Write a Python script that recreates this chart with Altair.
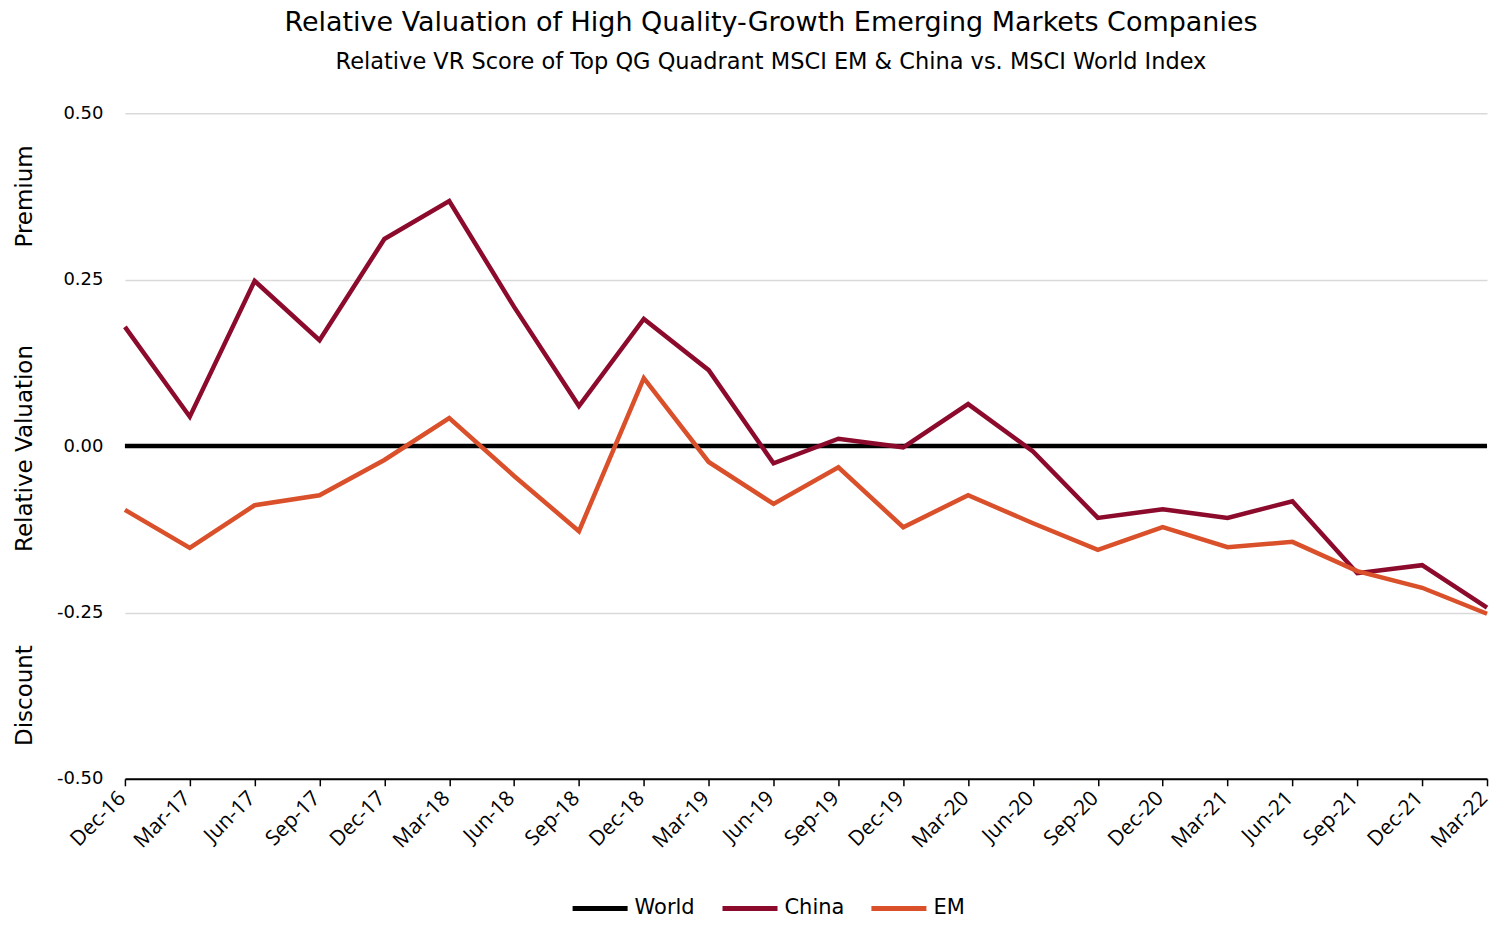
import altair as alt
import pandas as pd

dates = ["Dec-16", "Mar-17", "Jun-17", "Sep-17", "Dec-17", "Mar-18", "Jun-18", "Sep-18",
         "Dec-18", "Mar-19", "Jun-19", "Sep-19", "Dec-19", "Mar-20", "Jun-20", "Sep-20",
         "Dec-20", "Mar-21", "Jun-21", "Sep-21", "Dec-21", "Mar-22"]
world = [0.0] * len(dates)
china = [0.179, 0.044, 0.248, 0.159, 0.311, 0.368, 0.209, 0.060, 0.191, 0.114, -0.026,
         0.011, -0.002, 0.063, -0.008, -0.108, -0.095, -0.108, -0.083, -0.191, -0.179, -0.243]
em = [-0.096, -0.153, -0.089, -0.074, -0.021, 0.042, -0.045, -0.128, 0.102, -0.024, -0.087,
      -0.032, -0.122, -0.074, -0.116, -0.156, -0.122, -0.152, -0.144, -0.188, -0.213, -0.252]
series_names = ["World", "China", "EM"]
series_colors = ["#000000", "#8C0A2C", "#D9502A"]
side_labels = ["Premium", "Discount"]
side_values = [0.375, -0.375]

rows = []
for name, vals in zip(series_names, [world, china, em]):
    for d, v in zip(dates, vals):
        rows.append({"date": d, "value": v, "series": name})
df = pd.DataFrame(rows)
side_df = pd.DataFrame({"label": side_labels, "value": side_values})

FONT = "DejaVu Sans"

lines = alt.Chart(df).mark_line(strokeWidth=4.5, strokeCap="butt", strokeJoin="miter").encode(
    x=alt.X("date:O", sort=dates,
            scale=alt.Scale(type="point", padding=0),
            axis=alt.Axis(title=None, labelAngle=-45, labelAlign="right", labelBaseline="middle",
                          labelFontSize=21, labelFont="Open Sans", labelColor="#000",
                          labelPadding=9, labelOffset=-3,
                          domainColor="#000", domainWidth=2, tickColor="#000", tickWidth=1.5,
                          tickSize=7, grid=False)),
    y=alt.Y("value:Q", scale=alt.Scale(domain=[-0.5, 0.5], nice=False),
            axis=alt.Axis(values=[-0.5, -0.25, 0, 0.25, 0.5],
                          labelExpr="replace(format(datum.value, '.2f'), '\u2212', '-')",
                          title="Relative Valuation", titleFont=FONT, titleFontSize=23,
                          titleFontWeight="normal", titleColor="#000",
                          titleX=-88, titleY=335, titleAngle=270, titleBaseline="bottom",
                          labelFontSize=18, labelFont="DejaVu Sans", labelColor="#000",
                          labelPadding=22, domain=False, ticks=False,
                          gridColor="#d9d9d9", gridWidth=1.5)),
    color=alt.Color("series:N",
                    scale=alt.Scale(domain=series_names, range=series_colors),
                    legend=alt.Legend(title=None, orient="none", direction="horizontal",
                                      legendX=465, legendY=785, padding=0,
                                      symbolType="M-3.44,0H3.44", symbolSize=256,
                                      symbolStrokeWidth=5, labelFontSize=21, labelFont=FONT,
                                      labelColor="#000", columnPadding=16, labelOffset=24)),
)

side = alt.Chart(side_df).mark_text(angle=270, baseline="bottom", align="center",
                                     font=FONT, fontSize=23, color="#000").encode(
    x=alt.value(-88),
    y=alt.Y("value:Q"),
    text="label:N",
)

chart = alt.layer(lines, side).properties(
    width=1363, height=666,
    padding={"left": 6, "top": 0, "right": 0, "bottom": 0},
    title=alt.TitleParams(
        text="Relative Valuation of High Quality-Growth Emerging Markets Companies",
        subtitle="Relative VR Score of Top QG Quadrant MSCI EM & China vs. MSCI World Index",
        font=FONT, fontSize=27, fontWeight="normal", color="#000",
        subtitleFont=FONT, subtitleFontSize=22.5, subtitleColor="#000", subtitlePadding=14,
        anchor="middle", frame="bounds", offset=30, dx=16),
).configure_view(stroke=None)

chart.save("out.html", embed_options={"renderer": "svg", "actions": False})
